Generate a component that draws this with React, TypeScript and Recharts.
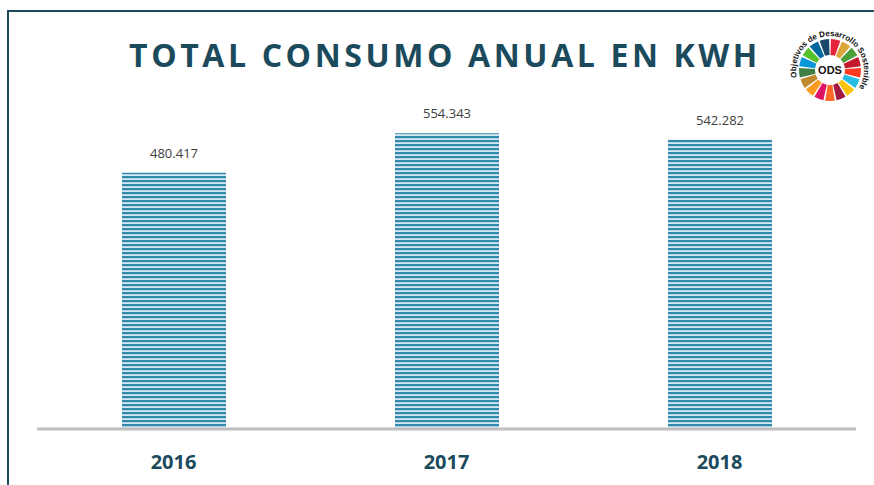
import { BarChart, Bar, XAxis, YAxis, LabelList } from "recharts";

const YEARS = ["2016", "2017", "2018"];
const CONSUMO = [480417, 554343, 542282];
const Y_TICKS = [0, 600000];

const DATA = YEARS.map((year, i) => ({ year, kwh: CONSUMO[i] }));

const TEAL = "#1b4a5c";
const SDG = [
  "#E5243B", "#DDA63A", "#4C9F38", "#C5192D", "#FF3A21", "#26BDE2",
  "#FCC30B", "#A21942", "#FD6925", "#DD1367", "#FD9D24", "#BF8B2E",
  "#3F7E44", "#0A97D9", "#56C02B", "#00689D", "#19486A",
];

const fmt = (v: number) => v.toLocaleString("de-DE");

// logo ODS, solo decorativo
function OdsLogo() {
  const cx = 50;
  const cy = 50;
  const r1 = 15;
  const r2 = 31;
  const rt = 34;
  const n = SDG.length;
  const step = (Math.PI * 2) / n;
  const pt = (r: number, a: number) => `${cx + r * Math.cos(a)},${cy + r * Math.sin(a)}`;
  return (
    <svg width={100} height={100} style={{ position: "absolute", left: 780, top: 20 }}>
      <defs>
        <path id="odsArc" d={`M ${pt(rt, Math.PI * 0.93)} A ${rt} ${rt} 0 1 1 ${pt(rt, Math.PI * 2.2)}`} />
      </defs>
      {SDG.map((c, i) => {
        const a0 = -Math.PI / 2 + i * step + 0.03;
        const a1 = a0 + step - 0.06;
        return (
          <path
            key={i}
            d={`M ${pt(r1, a0)} L ${pt(r2, a0)} A ${r2} ${r2} 0 0 1 ${pt(r2, a1)} L ${pt(r1, a1)} A ${r1} ${r1} 0 0 0 ${pt(r1, a0)} Z`}
            fill={c}
          />
        );
      })}
      <text
        x={cx}
        y={cy + 4}
        textAnchor="middle"
        style={{ fontFamily: "Liberation Sans", fontWeight: 700, fontSize: 11, fill: "#111" }}
      >
        ODS
      </text>
      <text style={{ fontFamily: "Liberation Sans", fontWeight: 700, fontSize: 8, fill: "#111" }}>
        <textPath href="#odsArc">Objetivos de Desarrollo Sostenible</textPath>
      </text>
    </svg>
  );
}

export default function App() {
  return (
    <div
      style={{
        position: "absolute",
        left: 0,
        top: 0,
        width: 874,
        height: 485,
        background: "#fff",
        overflow: "hidden",
      }}
    >
      <div
        style={{
          position: "absolute",
          left: 7,
          top: 10,
          width: 880,
          height: 490,
          borderTop: `2px solid ${TEAL}`,
          borderLeft: `2px solid ${TEAL}`,
        }}
      />
      <div
        style={{
          position: "absolute",
          left: 0,
          top: 33,
          width: 890,
          textAlign: "center",
          fontFamily: "'Open Sans', sans-serif",
          fontWeight: 700,
          fontSize: 32,
          letterSpacing: 3.6,
          color: TEAL,
        }}
      >
        TOTAL CONSUMO ANUAL EN KWH
      </div>
      <OdsLogo />
      <BarChart
        width={874}
        height={485}
        data={DATA}
        margin={{ top: 109, right: 18, bottom: 6, left: 37 }}
        style={{ position: "absolute", left: 0, top: 0 }}
      >
        <defs>
          <pattern id="stripes" width={8} height={4} patternUnits="userSpaceOnUse">
            <rect width={8} height={4} fill="#d3e9f1" />
            <rect width={8} height={2.2} fill="#3389ab" />
          </pattern>
        </defs>
        <XAxis
          dataKey="year"
          height={50}
          axisLine={{ stroke: "#bfbfbf", strokeWidth: 3 }}
          tickLine={false}
          tickSize={0}
          tickMargin={26}
          tick={{ fontSize: 20, fontWeight: 700, fill: TEAL, fontFamily: "'Open Sans', sans-serif" }}
        />
        <YAxis hide domain={[Y_TICKS[0], Y_TICKS[1]]} ticks={Y_TICKS} />
        <Bar dataKey="kwh" fill="url(#stripes)" barSize={104} isAnimationActive={false}>
          <LabelList
            dataKey="kwh"
            position="top"
            offset={15}
            formatter={(v: number) => fmt(v)}
            style={{ fontSize: 13, fill: "#404040", fontFamily: "'Open Sans', sans-serif" }}
          />
        </Bar>
      </BarChart>
    </div>
  );
}
